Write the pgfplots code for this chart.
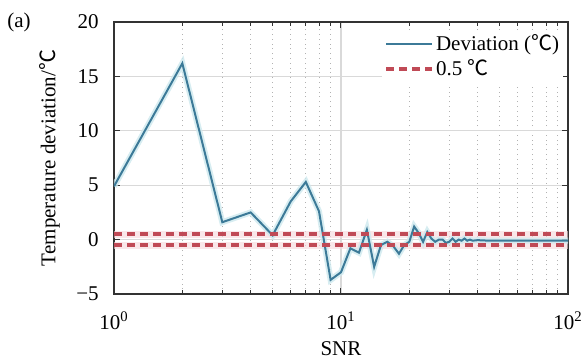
\documentclass[border=0pt]{standalone}
\usepackage{pgfplots}
\pgfplotsset{compat=1.18}
\usepackage{fontspec}
\setmainfont{Liberation Serif}
\newfontfamily\cjk{Noto Sans CJK SC}
\newcommand{\degC}{{\cjk ℃}}
\definecolor{devblue}{RGB}{60,122,152}
\definecolor{glowblue}{RGB}{205,232,238}
\definecolor{devred}{RGB}{192,74,86}
\definecolor{glowred}{RGB}{245,215,218}
\begin{document}
\fontsize{10.5}{12.5}\selectfont
\begin{tikzpicture}
\path[use as bounding box] (-57pt,-33.5pt) rectangle (234.5pt,147pt);
\begin{axis}[
  at={(0,0)}, anchor=south west,
  scale only axis, width=227pt, height=136pt,
  xmode=log, xmin=1, xmax=100, ymin=-5, ymax=20,
  xtick={1,10,100},
  xticklabels={10\textsuperscript{0},10\textsuperscript{1},10\textsuperscript{2}},
  minor xtick={2,3,4,5,6,7,8,9,20,30,40,50,60,70,80,90},
  ytick={-5,0,5,10,15,20},
  yticklabels={−5,0,5,10,15,20},
  tick align=inside,
  major tick length=3pt, minor tick length=2pt,
  tick style={black!80, line width=0.5pt},
  axis line style={black!80, line width=0.8pt},
  grid=both,
  major grid style={black!15, line width=0.6pt},
  minor grid style={black!30, dotted, line width=0.5pt},
  yticklabel style={xshift=-4pt},
  xticklabel style={yshift=-5pt},
  xlabel={SNR}, ylabel={Temperature deviation/\degC},
  xlabel style={yshift=1pt},
  ylabel style={yshift=1pt},
  legend style={draw=none, fill=white, at={(0.99,0.97)}, anchor=north east,
    inner sep=1pt, row sep=1pt, font=\fontsize{10.5}{12.5}\selectfont,
    nodes={inner sep=1pt}},
  legend cell align=left,
  legend image code/.code={\draw[#1] (0pt,0pt) -- (23pt,0pt);},
]
\addplot[glowred, line width=3.5pt, opacity=0.6, forget plot] coordinates {(1,0.5)(100,0.5)};
\addplot[glowred, line width=3.5pt, opacity=0.6, forget plot] coordinates {(1,-0.5)(100,-0.5)};
\addplot[glowblue, line width=3pt, opacity=0.8, forget plot] coordinates {
(1,4.9)(2,16.2)(3,1.6)(4,2.5)(5,0.4)(6,3.5)(7,5.3)(8,2.6)(9,-3.7)(10,-3.0)
(11,-0.8)(12,-1.2)(13,0.9)(14,-2.5)(15,-0.5)(16,-0.2)(17,-0.6)(18,-1.3)(19,-0.5)(20,-0.2)
(21,1.2)(22,0.6)(23,-0.2)(24,0.7)(25,0.1)(26,-0.2)(27,0.0)(28,0.0)(29,-0.3)(30,-0.2)
(31,0.1)(32,-0.2)(33,0.0)(34,-0.1)(35,0.1)(36,-0.1)(37,0.0)(38,-0.1)(40,-0.05)(45,-0.1)
(50,-0.1)(60,-0.1)(70,-0.1)(80,-0.1)(90,-0.1)(100,-0.1)};
\addplot[devblue, line width=1pt] coordinates {
(1,4.9)(2,16.2)(3,1.6)(4,2.5)(5,0.4)(6,3.5)(7,5.3)(8,2.6)(9,-3.7)(10,-3.0)
(11,-0.8)(12,-1.2)(13,0.9)(14,-2.5)(15,-0.5)(16,-0.2)(17,-0.6)(18,-1.3)(19,-0.5)(20,-0.2)
(21,1.2)(22,0.6)(23,-0.2)(24,0.7)(25,0.1)(26,-0.2)(27,0.0)(28,0.0)(29,-0.3)(30,-0.2)
(31,0.1)(32,-0.2)(33,0.0)(34,-0.1)(35,0.1)(36,-0.1)(37,0.0)(38,-0.1)(40,-0.05)(45,-0.1)
(50,-0.1)(60,-0.1)(70,-0.1)(80,-0.1)(90,-0.1)(100,-0.1)};
\addlegendentry{Deviation (\degC)}
\addplot[devred, line width=2pt, dash pattern=on 4pt off 2.5pt] coordinates {(1,0.5)(100,0.5)};
\addlegendentry{0.5 \degC}
\addplot[devred, line width=2pt, dash pattern=on 4pt off 2.5pt, forget plot] coordinates {(1,-0.5)(100,-0.5)};
\end{axis}
\node at (-47.5pt,136pt) {(a)};
\end{tikzpicture}
\end{document}
